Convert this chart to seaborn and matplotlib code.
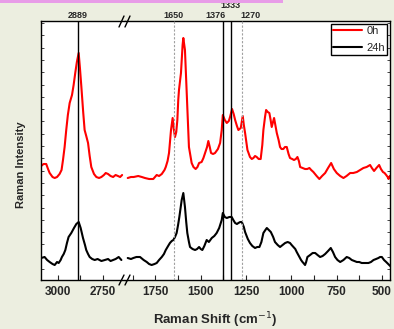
import numpy as np
import pandas as pd
import matplotlib
matplotlib.use("Agg")
import matplotlib.pyplot as plt
import seaborn as sns
from matplotlib.ticker import MultipleLocator
from matplotlib.lines import Line2D
from matplotlib.patches import Rectangle

# ---------------- data ----------------
# 0h, high-wavenumber segment
red_hi_x = [3093, 3080, 3065, 3055, 3046, 3030, 3018, 3005, 2991, 2980, 2972, 2963, 2954, 2945,
            2935, 2922, 2913, 2904, 2895, 2885, 2878, 2870, 2860, 2852, 2843, 2833, 2824, 2815,
            2800, 2787, 2772, 2759, 2745, 2735, 2722, 2708, 2694, 2680, 2667, 2655, 2644]
red_hi_y = [114, 116, 116, 111, 107, 103, 102, 103, 106, 110, 120, 133, 150, 165,
            177, 185, 195, 207, 218, 227, 212, 193, 168, 150, 144, 137, 124, 113,
            106, 103, 102, 103, 105, 107, 106, 104, 103, 105, 104, 103, 105]
# 24h, high-wavenumber segment
blk_hi_x = [3093, 3074, 3060, 3046, 3030, 3018, 3005, 2996, 2985, 2978, 2968, 2959, 2950, 2941,
            2926, 2911, 2898, 2885, 2874, 2861, 2850, 2843, 2833, 2824, 2810, 2796, 2780, 2759,
            2740, 2722, 2708, 2694, 2680, 2663, 2648]
blk_hi_y = [22, 23, 20, 18, 16, 15, 18, 17, 20, 23, 26, 30, 37, 43,
            47, 52, 56, 58, 52, 42, 35, 30, 26, 23, 21, 20, 21, 19,
            20, 21, 19, 20, 21, 23, 20]
# 0h, fingerprint segment
red_lo_x = [1903, 1885, 1870, 1845, 1825, 1808, 1785, 1762, 1743, 1730, 1715, 1700, 1693, 1683,
            1675, 1664, 1655, 1648, 1642, 1635, 1629, 1624, 1620, 1609, 1600, 1596, 1587, 1577,
            1565, 1550, 1540, 1528, 1518, 1509, 1495, 1485, 1476, 1465, 1458, 1450, 1443, 1432,
            1421, 1405, 1393, 1384, 1378, 1367, 1356, 1345, 1338, 1327, 1318, 1310, 1300, 1292,
            1279, 1268, 1262, 1255, 1242, 1228, 1218, 1209, 1200, 1191, 1180, 1169, 1160, 1154,
            1145, 1139, 1130, 1121, 1114, 1108, 1095, 1087, 1080, 1070, 1062, 1054, 1044, 1035,
            1025, 1015, 1007, 995, 985, 975, 966, 958, 951, 937, 924, 912, 900, 890,
            878, 860, 845, 830, 813, 797, 780, 765, 749, 730, 712, 695, 675, 658,
            638, 620, 602, 584, 565, 555, 543, 530, 515, 505, 494, 485, 476, 468, 463, 456]
red_lo_y = [102, 103, 103, 104, 103, 102, 101, 101, 105, 104, 106, 110, 113, 119,
            127, 150, 162, 150, 143, 148, 160, 180, 190, 207, 235, 242, 230, 187,
            133, 117, 113, 111, 113, 117, 118, 122, 127, 133, 139, 133, 127, 126,
            127, 131, 137, 150, 165, 160, 157, 159, 163, 171, 166, 160, 154, 150,
            152, 164, 155, 147, 130, 123, 121, 122, 124, 123, 121, 121, 135, 150,
            163, 170, 168, 167, 160, 153, 162, 154, 147, 140, 133, 131, 131, 133,
            133, 126, 122, 121, 120, 121, 123, 119, 113, 112, 111, 111, 112, 110,
            108, 104, 101, 104, 107, 112, 117, 111, 107, 104, 102, 104, 107, 107,
            108, 110, 112, 113, 115, 112, 109, 112, 115, 111, 108, 107, 105, 103, 101, 104]
# 24h, fingerprint segment
blk_lo_x = [1903, 1885, 1872, 1855, 1835, 1815, 1798, 1785, 1771, 1755, 1743, 1730, 1715, 1703,
            1693, 1680, 1670, 1660, 1651, 1642, 1633, 1625, 1618, 1605, 1596, 1587, 1580, 1574,
            1565, 1559, 1545, 1531, 1520, 1509, 1500, 1491, 1480, 1467, 1455, 1439, 1425, 1412,
            1398, 1384, 1378, 1367, 1356, 1342, 1329, 1320, 1310, 1300, 1292, 1282, 1273, 1262,
            1255, 1240, 1228, 1215, 1200, 1188, 1176, 1165, 1154, 1143, 1135, 1124, 1113, 1100,
            1090, 1075, 1062, 1048, 1034, 1020, 1007, 998, 988, 978, 970, 958, 946, 938,
            933, 924, 918, 911, 896, 882, 868, 855, 841, 827, 813, 797, 782, 770,
            758, 745, 730, 712, 694, 680, 666, 652, 638, 625, 611, 592, 574, 560,
            546, 532, 519, 510, 500, 488, 476, 465, 454]
blk_lo_y = [22, 21, 22, 23, 23, 20, 18, 16, 15, 16, 17, 20, 23, 26,
            30, 34, 37, 39, 40, 43, 47, 55, 63, 80, 87, 73, 58, 47,
            38, 33, 31, 30, 31, 33, 31, 30, 34, 40, 38, 42, 44, 47,
            52, 60, 67, 63, 62, 63, 63, 60, 57, 56, 57, 58, 58, 53,
            48, 41, 37, 34, 32, 33, 33, 38, 47, 50, 52, 50, 48, 43,
            38, 35, 33, 35, 37, 38, 37, 35, 33, 31, 28, 24, 20, 18,
            17, 15, 18, 23, 25, 27, 27, 25, 23, 24, 26, 29, 32, 28,
            23, 20, 18, 20, 23, 22, 20, 19, 18, 18, 17, 17, 17, 18,
            20, 21, 22, 23, 23, 20, 18, 16, 14]

times = ['0h', '24h']
peak_pos = [2889, 1650, 1376, 1333, 1270]
peak_labels = ['2889', '1650', '1376', '1333', '1270']
left_ticks = [3000, 2750]
right_ticks = [1750, 1500, 1250, 1000, 750, 500]

# ---------------- build table ----------------
frames = []
for seg, t, xs, ys in [('hi', '0h', red_hi_x, red_hi_y), ('hi', '24h', blk_hi_x, blk_hi_y),
                       ('lo', '0h', red_lo_x, red_lo_y), ('lo', '24h', blk_lo_x, blk_lo_y)]:
    frames.append(pd.DataFrame({'shift': xs, 'intensity': ys, 'time': t, 'segment': seg}))
df = pd.concat(frames, ignore_index=True)

sns.set_style("ticks")
plt.rcParams['font.family'] = ['Liberation Sans', 'DejaVu Sans']

W, H = 394, 329
fig = plt.figure(figsize=(W / 100, H / 100), dpi=100, facecolor='#ECEEE0')
axL = fig.add_axes([41 / W, 49 / H, 84 / W, 259 / H])
axR = fig.add_axes([125 / W, 49 / H, 265 / W, 259 / H])

palette = {'0h': '#FF0000', '24h': '#000000'}
for ax, seg in [(axL, 'hi'), (axR, 'lo')]:
    sns.lineplot(data=df[df['segment'] == seg], x='shift', y='intensity', hue='time',
                 hue_order=times, palette=palette, ax=ax, estimator=None,
                 linewidth=1.5, legend=(seg == 'lo'))
    ax.set_facecolor('white')
    ax.set_ylim(0, 259)
    ax.set_xlabel('')
    ax.set_ylabel('')
    for s in ax.spines.values():
        s.set_color('black')
        s.set_linewidth(1.0)

axL.set_xlim(3094, 2628)
axR.set_xlim(1918, 455)
axL.spines['right'].set_visible(False)
axR.spines['left'].set_visible(False)

axL.set_xticks(left_ticks, labels=[str(v) for v in left_ticks], fontweight='bold')
axR.set_xticks(right_ticks, labels=[str(v) for v in right_ticks], fontweight='bold')
for ax in (axL, axR):
    ax.xaxis.set_minor_locator(MultipleLocator(125))
    ax.tick_params(axis='x', which='both', direction='in', length=3.6, width=0.8,
                   labelsize=8.5, pad=4, top=False, bottom=True)
    ax.set_yticks(np.arange(11, 259, 12.3))
    ax.set_yticklabels([])
axL.tick_params(axis='y', direction='in', length=2.2, width=0.6, left=True, right=False)
axR.tick_params(axis='y', direction='in', length=2.2, width=0.6, left=False, right=True)

# reference lines and labels
styles = [dict(color='black', lw=1.0, ls='-'),
          dict(color='#A0A0A0', lw=0.8, ls=(0, (2, 1.5))),
          dict(color='black', lw=1.0, ls='-'),
          dict(color='black', lw=1.0, ls='-'),
          dict(color='#A0A0A0', lw=0.8, ls=(0, (2, 1.5)))]
label_align = [('center', 0, 3.8), ('center', 0, 3.8), ('right', 1.5, 3.8),
               ('center', 0, 10.8), ('left', -1.5, 3.8)]
for pos, lab, st, (ha, dx, dy) in zip(peak_pos, peak_labels, styles, label_align):
    ax = axL if pos > 2000 else axR
    ax.axvline(pos, zorder=3, **st)
    ax.annotate(lab, xy=(pos, 1), xycoords=('data', 'axes fraction'),
                xytext=(dx, dy), textcoords='offset points', ha=ha, va='center',
                fontsize=6.5, fontweight='bold', annotation_clip=False)

# legend
leg = axR.get_legend()
handles = leg.legend_handles
labels = [t.get_text() for t in leg.texts]
for h in handles:
    h.set_linewidth(1.5)
axR.legend(handles, labels, loc='upper right', fontsize=8, frameon=True, fancybox=False,
           edgecolor='black', framealpha=1, handlelength=2.6, handletextpad=0.4,
           borderpad=0.2, labelspacing=0.62, borderaxespad=0.25)
axR.get_legend().get_frame().set_linewidth(1.0)

# axis break marks
for (x0, y0, x1, y1) in [(119, 27, 124, 16), (125, 27, 130, 16),
                         (119, 285, 124, 275), (125, 285, 130, 275)]:
    fig.add_artist(Line2D([x0 / W, x1 / W], [1 - y0 / H, 1 - y1 / H],
                          color='black', lw=1.0, transform=fig.transFigure))

# axis titles
fig.text(215.5 / W, 1 - 320 / H, 'Raman Shift (cm$^{-1}$)', ha='center', va='center',
         fontsize=9.5, fontweight='bold')
fig.text(21.5 / W, 1 - 165 / H, 'Raman Intensity', ha='center', va='center',
         rotation=90, fontsize=8, fontweight='bold')

# decorative strip at top
fig.add_artist(Rectangle((0, 1 - 2.5 / H), 283 / W, 2.5 / H, transform=fig.transFigure,
                         facecolor='#E89CE8', edgecolor='none'))

fig.savefig('out.png', dpi=100, facecolor=fig.get_facecolor())
